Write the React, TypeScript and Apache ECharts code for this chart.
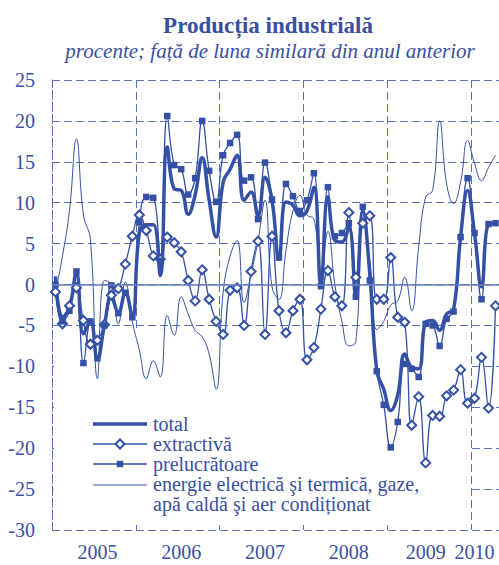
import React, { useEffect, useRef } from 'react';
import * as echarts from 'echarts';

// ---------- DATA ----------
const YEARS = ['2005', '2006', '2007', '2008', '2009', '2010'];
const MONTHS_IN_YEAR = [12, 12, 12, 12, 12, 4];
const categories: string[] = [];
YEARS.forEach((y, yi) => {
  for (let m = 1; m <= MONTHS_IN_YEAR[yi]; m++) categories.push(`${y}-${m < 10 ? '0' + m : m}`);
});

const Y_TICKS = { min: -30, max: 25, interval: 5 };

const total = [
  1.0, -4.0, -2.8, 1.5, -6.0, -4.5, -9.2, -5.0, -1.5, -3.4, -1.0, -4.0,
  6.3, 7.3, 7.3, 1.1, 16.8, 11.7, 11.5, 8.6, 11.0, 15.5, 10.3, 5.8,
  12.5, 14.1, 15.8, 10.3, 11.3, 8.4, 13.1, 10.3, 3.1, 10.1, 9.7, 8.4,
  9.0, 11.9, -0.1, 10.7, 5.4, 5.2, 7.0, -1.5, 9.0, 1.3, -10.5, -12.8,
  -15.4, -13.5, -8.5, -10.1, -10.3, -4.6, -4.4, -5.6, -3.6, -3.0, 5.8, 11.5,
  6.2, -0.3, 7.4, 7.5,
];

const extractiva = [
  -0.9, -4.8, -2.6, -0.4, -4.4, -7.3, -6.8, -4.9, -1.3, -0.5, 2.5, 5.9,
  8.5, 6.6, 3.5, 3.1, 5.8, 5.1, 4.0, 0.5, -2.0, 1.8, -1.8, -4.5,
  -6.1, -0.7, -0.4, -5.0, 1.6, 5.3, -6.1, 5.9, -3.2, -5.9, -3.2, -1.8,
  -9.2, -7.7, -3.0, 1.7, -1.5, -2.6, 8.8, 0.9, 7.5, 8.4, -1.8, -1.8,
  3.3, -4.0, -4.6, -17.2, -13.7, -21.8, -16.0, -16.1, -13.6, -12.9, -10.4, -14.5,
  -13.9, -8.9, -15.1, -2.6,
];

const prelucratoare = [
  0.0, -4.5, -3.2, 1.6, -9.6, -4.5, -9.0, -5.0, -0.1, -3.5, -1.0, -4.0,
  7.6, 10.7, 10.6, 2.9, 20.6, 14.6, 14.1, 11.0, 13.0, 20.0, 13.9, 10.1,
  15.8, 17.3, 18.3, 12.7, 13.1, 8.0, 14.9, 10.4, 3.3, 12.3, 10.8, 9.0,
  10.3, 13.6, -0.2, 11.9, 5.9, 6.3, 7.5, -1.5, 9.5, 0.5, -10.6, -14.7,
  -19.9, -16.8, -9.7, -10.3, -11.3, -4.8, -5.0, -7.5, -4.2, -3.3, 5.8, 13.0,
  6.3, -1.8, 7.4, 7.5,
];

const energie = [
  -1.0, 3.5, 9.0, 17.8, 8.5, 5.5, -11.5, 0.5, 0.0, -4.8, 0.3, -4.5,
  -8.0, -11.5, -9.3, -11.3, -3.8, -6.2, -1.5, -3.6, -5.6, -6.4, -8.5, -12.8,
  -1.0, 3.5, 5.4, -2.2, 1.3, 5.4, 10.3, -0.3, -1.8, 4.2, 9.0, 10.9,
  8.5, 8.0, 1.5, 6.5, 0.0, -4.5, -7.5, -7.0, 8.0, 3.0, -5.5, -4.5,
  -2.5, -2.0, 0.9, -3.2, 4.6, 10.7, 11.5, 20.0, 12.3, 9.9, 12.5, 17.6,
  14.8, 12.7, 14.3, 15.8,
];

const TITLE = 'Producția industrială';
const SUBTITLE = 'procente; față de luna similară din anul anterior';
const LEGEND = {
  total: 'total',
  extractiva: 'extractivă',
  prelucratoare: 'prelucrătoare',
  energie1: 'energie electrică şi termică, gaze,',
  energie2: 'apă caldă şi aer condiționat',
};
const YEAR_LABEL_INDEX = [6, 18, 30, 42, 53, 60];

// ---------- STYLE ----------
const BLUE = '#3451a5';
const TEXT = '#3a4fa0';
const GRIDC = '#5a70b8';
const FONT = 'Liberation Serif, Times New Roman, serif';

const option: any = {
  animation: false,
  backgroundColor: '#ffffff',
  textStyle: { fontFamily: FONT },
  grid: { left: 52, top: 80, width: 448, height: 450, containLabel: false },
  xAxis: {
    type: 'category',
    data: categories,
    boundaryGap: true,
    axisLine: { show: true, lineStyle: { color: GRIDC, type: [8, 4], width: 1 } },
    axisTick: {
      show: true,
      inside: true,
      length: 5,
      interval: (i: number) => i % 12 === 0,
      lineStyle: { color: GRIDC, width: 1 },
    },
    splitLine: {
      show: true,
      interval: (i: number) => i % 12 === 0,
      lineStyle: { color: GRIDC, type: [8, 4], width: 1 },
    },
    axisLabel: {
      interval: (i: number) => YEAR_LABEL_INDEX.indexOf(i) >= 0,
      formatter: (v: string) => v.slice(0, 4),
      color: TEXT,
      fontFamily: FONT,
      fontSize: 20,
      margin: 12,
    },
  },
  yAxis: {
    type: 'value',
    min: Y_TICKS.min,
    max: Y_TICKS.max,
    interval: Y_TICKS.interval,
    axisLine: { show: true, lineStyle: { color: GRIDC, type: [8, 4], width: 1 } },
    axisTick: { show: false },
    splitLine: { show: true, lineStyle: { color: GRIDC, type: [8, 4], width: 1 } },
    axisLabel: { color: TEXT, fontFamily: FONT, fontSize: 20, margin: 17 },
  },
  series: [
    {
      name: LEGEND.total,
      type: 'line',
      data: total,
      smooth: 0.45,
      symbol: 'none',
      lineStyle: { color: BLUE, width: 3.5 },
      z: 3,
      markLine: {
        silent: true,
        symbol: 'none',
        label: { show: false },
        lineStyle: { color: '#6a7fc2', width: 1.5, type: 'solid' },
        data: [{ yAxis: 0 }],
      },
    },
    {
      name: LEGEND.extractiva,
      type: 'line',
      data: extractiva,
      smooth: 0.45,
      symbol: 'diamond',
      symbolSize: 9,
      showAllSymbol: true,
      lineStyle: { color: BLUE, width: 1.3 },
      itemStyle: { color: '#ffffff', borderColor: BLUE, borderWidth: 2 },
      z: 4,
    },
    {
      name: LEGEND.prelucratoare,
      type: 'line',
      data: prelucratoare,
      smooth: 0.45,
      symbol: 'rect',
      symbolSize: 6.5,
      showAllSymbol: true,
      lineStyle: { color: BLUE, width: 1.3 },
      itemStyle: { color: BLUE },
      z: 4,
    },
    {
      name: 'energie',
      type: 'line',
      data: energie,
      smooth: 0.45,
      symbol: 'none',
      lineStyle: { color: BLUE, width: 1 },
      z: 4,
    },
  ],
  graphic: [
    {
      type: 'rect',
      silent: true,
      z: 1,
      shape: { x: 54, y: 328, width: 414, height: 197 },
      style: { fill: '#ffffff' },
    },
    {
      type: 'text',
      z: 10,
      x: 268,
      y: 25,
      style: {
        text: TITLE,
        fill: TEXT,
        fontFamily: FONT,
        fontSize: 23,
        fontWeight: 'bold',
        align: 'center',
        verticalAlign: 'middle',
        textAlign: 'center',
        textVerticalAlign: 'middle',
      },
    },
    {
      type: 'text',
      z: 10,
      x: 270,
      y: 51,
      style: {
        text: SUBTITLE,
        fill: TEXT,
        fontFamily: FONT,
        fontSize: 21,
        fontStyle: 'italic',
        align: 'center',
        verticalAlign: 'middle',
        textAlign: 'center',
        textVerticalAlign: 'middle',
      },
    },
    // legend
    { type: 'line', z: 10, shape: { x1: 93, y1: 424, x2: 147, y2: 424 }, style: { stroke: BLUE, lineWidth: 3.5 } },
    { type: 'line', z: 10, shape: { x1: 93, y1: 444, x2: 147, y2: 444 }, style: { stroke: BLUE, lineWidth: 1.3 } },
    {
      type: 'polygon',
      z: 11,
      shape: { points: [[120, 439.5], [124.5, 444], [120, 448.5], [115.5, 444]] },
      style: { fill: '#ffffff', stroke: BLUE, lineWidth: 2 },
    },
    { type: 'line', z: 10, shape: { x1: 93, y1: 464, x2: 147, y2: 464 }, style: { stroke: BLUE, lineWidth: 1.3 } },
    { type: 'rect', z: 11, shape: { x: 116.75, y: 460.75, width: 6.5, height: 6.5 }, style: { fill: BLUE } },
    { type: 'line', z: 10, shape: { x1: 93, y1: 485, x2: 147, y2: 485 }, style: { stroke: BLUE, lineWidth: 1 } },
    ...[
      [LEGEND.total, 424],
      [LEGEND.extractiva, 444],
      [LEGEND.prelucratoare, 464],
      [LEGEND.energie1, 484],
      [LEGEND.energie2, 504],
    ].map(([t, y]) => ({
      type: 'text',
      z: 10,
      x: 153,
      y: y as number,
      style: {
        text: t as string,
        fill: TEXT,
        fontFamily: FONT,
        fontSize: 20,
        align: 'left',
        verticalAlign: 'middle',
        textAlign: 'left',
        textVerticalAlign: 'middle',
      },
    })),
  ],
};

export default function App() {
  const ref = useRef<HTMLDivElement>(null);
  useEffect(() => {
    if (!ref.current) return;
    const chart = echarts.init(ref.current, null, { renderer: 'svg' });
    chart.setOption(option);
    return () => chart.dispose();
  }, []);
  return (
    <div
      ref={ref}
      style={{ position: 'absolute', left: 0, top: 0, width: 499, height: 565, background: '#fff' }}
    />
  );
}
